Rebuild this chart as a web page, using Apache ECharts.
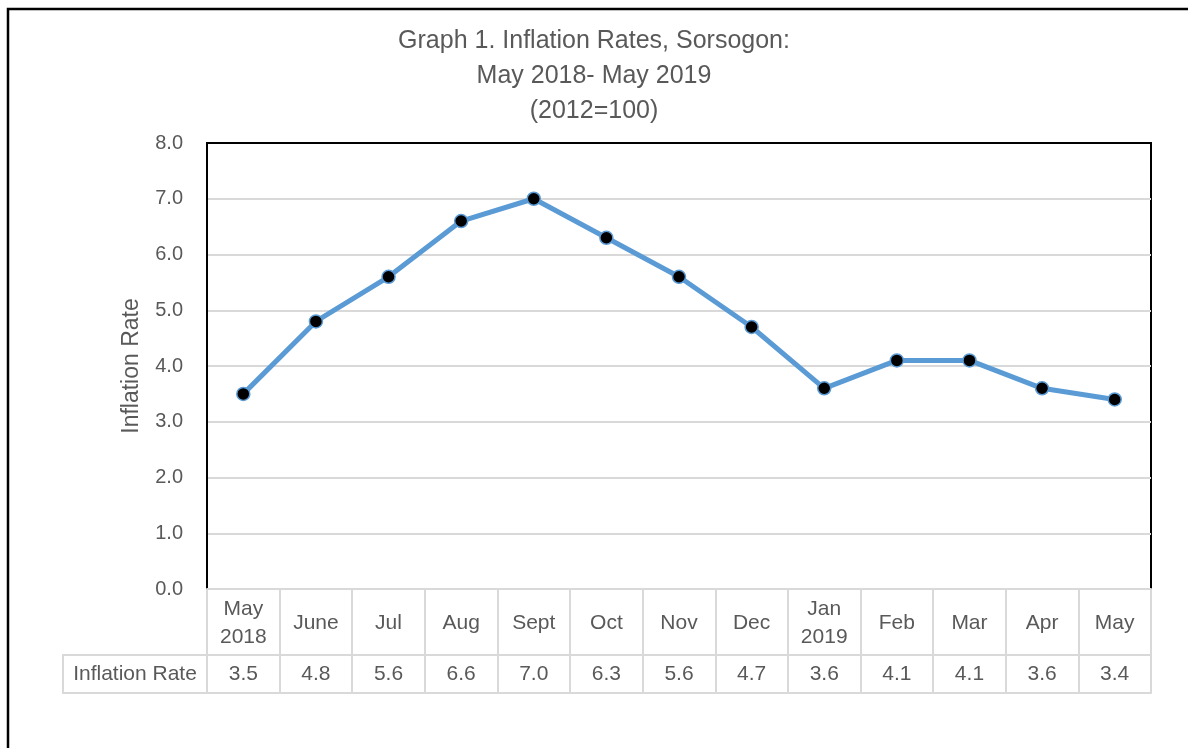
<!DOCTYPE html>
<html>
<head>
<meta charset="utf-8">
<script src="https://cdn.jsdelivr.net/npm/echarts@6/dist/echarts.min.js"></script>
<style>
html,body{margin:0;padding:0;background:#fff;}
#chart{width:1188px;height:748px;}
</style>
</head>
<body>
<div id="chart"></div>
<script>
const titleLines = ['Graph 1. Inflation Rates, Sorsogon:', 'May 2018- May 2019', '(2012=100)'];
const categories = ['May\n2018', 'June', 'Jul', 'Aug', 'Sept', 'Oct', 'Nov', 'Dec', 'Jan\n2019', 'Feb', 'Mar', 'Apr', 'May'];
const inflationRate = [3.5, 4.8, 5.6, 6.6, 7.0, 6.3, 5.6, 4.7, 3.6, 4.1, 4.1, 3.6, 3.4];
const yTicks = [0, 1, 2, 3, 4, 5, 6, 7, 8];
const seriesName = 'Inflation Rate';
const axisTitle = 'Inflation Rate';

const FONT = 'Liberation Sans';
const GREY_TEXT = '#595959';
const TABLE_LINE = '#d9d9d9';

const chart = echarts.init(document.getElementById('chart'), null, {renderer: 'canvas'});
chart.setOption({
  animation: false,
  backgroundColor: '#fff',
  textStyle: {fontFamily: FONT},
  title: {
    text: titleLines.join('\n'),
    left: 'center',
    top: 19,
    textStyle: {fontFamily: FONT, fontSize: 25, fontWeight: 'normal', color: GREY_TEXT, lineHeight: 35}
  },
  graphic: [
    {type: 'rect', shape: {x: 8, y: 9, width: 1220, height: 800}, style: {fill: 'none', stroke: '#000', lineWidth: 2.5}, silent: true},
    {type: 'rect', shape: {x: 63, y: 655, width: 144, height: 38}, style: {fill: 'none', stroke: TABLE_LINE, lineWidth: 2}, silent: true},
    {type: 'text', x: 135, y: 674, style: {text: seriesName, fontFamily: FONT, fontSize: 21, fill: GREY_TEXT, textAlign: 'center', textVerticalAlign: 'middle'}, silent: true}
  ],
  grid: {left: 207, right: 37, top: 143, bottom: 159, show: true, borderColor: '#000', borderWidth: 2, backgroundColor: 'transparent'},
  xAxis: [
    {
      type: 'category', data: categories, boundaryGap: true, position: 'bottom',
      axisLine: {show: true, lineStyle: {color: TABLE_LINE, width: 2}},
      axisTick: {show: true, inside: false, length: 66, lineStyle: {color: TABLE_LINE, width: 2}},
      axisLabel: {fontFamily: FONT, fontSize: 21, color: GREY_TEXT, lineHeight: 28, margin: 34, verticalAlign: 'middle', interval: 0},
      splitLine: {show: false}
    },
    {
      type: 'category', data: categories, boundaryGap: true, position: 'bottom', offset: 66,
      axisLine: {show: true, lineStyle: {color: TABLE_LINE, width: 2}},
      axisTick: {show: true, inside: false, length: 38, lineStyle: {color: TABLE_LINE, width: 2}},
      axisLabel: {fontFamily: FONT, fontSize: 21, color: GREY_TEXT, margin: 19, verticalAlign: 'middle', interval: 0,
        formatter: (v, i) => inflationRate[i].toFixed(1)},
      splitLine: {show: false}
    },
    {
      type: 'category', data: categories, boundaryGap: true, position: 'bottom', offset: 104,
      axisLine: {show: true, lineStyle: {color: TABLE_LINE, width: 2}},
      axisTick: {show: false}, axisLabel: {show: false}, splitLine: {show: false}
    },
    {
      type: 'category', data: categories, boundaryGap: true, position: 'top',
      axisLine: {show: true, lineStyle: {color: '#000', width: 2}},
      axisTick: {show: false}, axisLabel: {show: false}, splitLine: {show: false}
    }
  ],
  yAxis: {
    type: 'value', min: yTicks[0], max: yTicks[yTicks.length - 1], interval: 1,
    name: axisTitle, nameLocation: 'middle', nameGap: 64, nameRotate: 90,
    nameTextStyle: {fontFamily: FONT, fontSize: 23, color: GREY_TEXT},
    axisLine: {show: true, lineStyle: {color: '#000', width: 2}},
    axisTick: {show: false},
    axisLabel: {fontFamily: FONT, fontSize: 20, color: GREY_TEXT, margin: 24, formatter: v => v.toFixed(1)},
    splitLine: {show: true, lineStyle: {color: TABLE_LINE, width: 2}}
  },
  series: [{
    name: seriesName, type: 'line', xAxisIndex: 0, data: inflationRate,
    lineStyle: {color: '#5b9bd5', width: 5},
    symbol: 'circle', symbolSize: 13,
    itemStyle: {color: '#000', borderColor: '#5b9bd5', borderWidth: 1.5},
    z: 5
  }]
});
</script>
</body>
</html>
